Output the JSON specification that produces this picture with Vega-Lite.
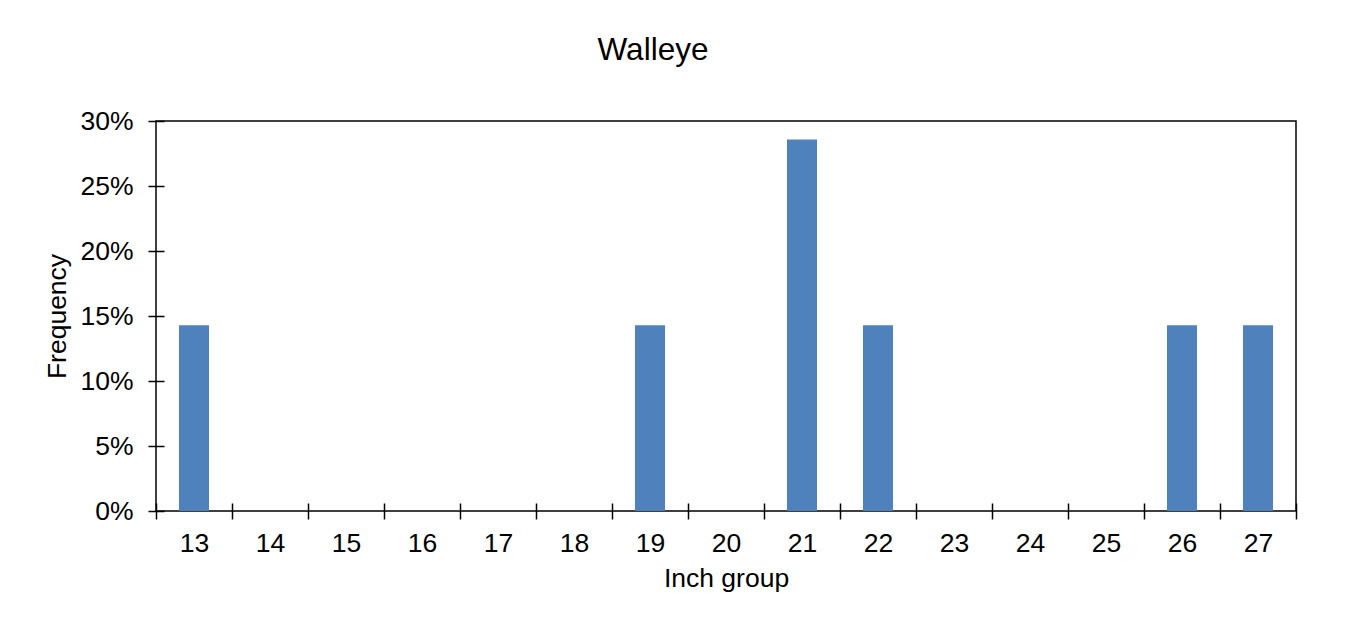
{
  "$schema": "https://vega.github.io/schema/vega-lite/v6.json",
  "autosize": {"type": "none"},
  "padding": {"left": 156, "top": 121, "right": 71, "bottom": 130},
  "width": 1140,
  "height": 390,
  "background": "#ffffff",
  "title": {
    "text": "Walleye",
    "anchor": "middle",
    "dx": -73,
    "offset": 17,
    "baseline": "alphabetic",
    "font": "Liberation Sans",
    "fontSize": 31.5,
    "fontWeight": "normal",
    "color": "#000000"
  },
  "config": {
    "view": {"stroke": "#000000", "strokeWidth": 1.5},
    "font": "Liberation Sans"
  },
  "data": {
    "values": [
      {"inch": "13", "freq": 0.1429},
      {"inch": "14", "freq": 0},
      {"inch": "15", "freq": 0},
      {"inch": "16", "freq": 0},
      {"inch": "17", "freq": 0},
      {"inch": "18", "freq": 0},
      {"inch": "19", "freq": 0.1429},
      {"inch": "20", "freq": 0},
      {"inch": "21", "freq": 0.2857},
      {"inch": "22", "freq": 0.1429},
      {"inch": "23", "freq": 0},
      {"inch": "24", "freq": 0},
      {"inch": "25", "freq": 0},
      {"inch": "26", "freq": 0.1429},
      {"inch": "27", "freq": 0.1429}
    ]
  },
  "mark": {"type": "bar", "color": "#4F81BD", "width": {"band": 0.395}},
  "encoding": {
    "x": {
      "field": "inch",
      "type": "ordinal",
      "sort": null,
      "scale": {"type": "band", "paddingInner": 0, "paddingOuter": 0},
      "axis": {
        "title": "Inch group",
        "labelAngle": 0,
        "domain": false,
        "tickBand": "extent",
        "offset": -8,
        "tickSize": 16,
        "tickWidth": 1.5,
        "tickColor": "#000000",
        "labelPadding": 11,
        "labelFontSize": 26.5,
        "labelColor": "#000000",
        "labelFont": "Liberation Sans",
        "titleFontSize": 26.5,
        "titleFontWeight": "normal",
        "titleColor": "#000000",
        "titleFont": "Liberation Sans",
        "titlePadding": 9
      }
    },
    "y": {
      "field": "freq",
      "type": "quantitative",
      "scale": {"domain": [0, 0.3], "nice": false},
      "axis": {
        "title": "Frequency",
        "format": ".0%",
        "values": [0, 0.05, 0.1, 0.15, 0.2, 0.25, 0.3],
        "grid": false,
        "domain": false,
        "offset": -8,
        "tickSize": 16,
        "tickWidth": 1.5,
        "tickColor": "#000000",
        "labelPadding": 15,
        "labelFontSize": 26.5,
        "labelColor": "#000000",
        "labelFont": "Liberation Sans",
        "titleFontSize": 26.5,
        "titleFontWeight": "normal",
        "titleColor": "#000000",
        "titleFont": "Liberation Sans",
        "titlePadding": 8
      }
    }
  }
}
